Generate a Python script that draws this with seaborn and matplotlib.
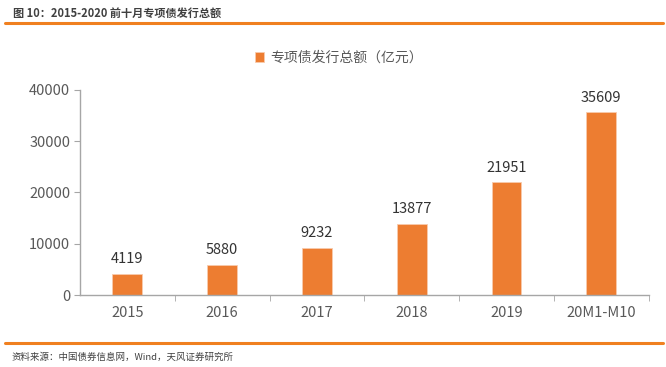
import matplotlib
matplotlib.use("Agg")
import matplotlib.pyplot as plt
import seaborn as sns
import pandas as pd

years = ["2015", "2016", "2017", "2018", "2019", "20M1-M10"]
amounts = [4119, 5880, 9232, 13877, 21951, 35609]
series_name = "专项债发行总额（亿元）"

sns.set_style("white")
plt.rcParams['font.family'] = ['Noto Sans CJK SC', 'DejaVu Sans']

df = pd.DataFrame({"year": years, "amount": amounts})
orange = "#ED7D31"
grey = "#595959"
axis_grey = "#A6A6A6"

fig = plt.figure(figsize=(6.66, 3.67), dpi=100)
ax = fig.add_axes([0.120, 0.196, 0.854, 0.559])
sns.barplot(data=df, x="year", y="amount", color=orange, width=0.316,
            saturation=1, ax=ax, label=series_name,
            edgecolor="#F8CBAD", linewidth=0.6)

for i, v in enumerate(amounts):
    ax.text(i, v + 1500, str(v), ha="center", va="bottom", fontsize=10.5, color="#333333")

ax.set_xlim(-0.5, len(years) - 0.5)
ax.set_ylim(0, 40000)
ax.set_yticks(range(0, 40001, 10000))
ax.set_xticks([i + 0.5 for i in range(len(years))], minor=True)
ax.set_xlabel("")
ax.set_ylabel("")
ax.tick_params(axis="y", length=4, color=axis_grey, labelsize=10.5, labelcolor=grey, pad=3, left=True)
ax.tick_params(axis="x", which="major", length=0, labelsize=10.5, labelcolor=grey, pad=8)
ax.tick_params(axis="x", which="minor", length=4, color=axis_grey, bottom=True)
for s in ["top", "right"]:
    ax.spines[s].set_visible(False)
for s in ["left", "bottom"]:
    ax.spines[s].set_color(axis_grey)
    ax.spines[s].set_linewidth(1)

ax.legend(loc="lower center", bbox_to_anchor=(0.455, 1.06), frameon=False, fontsize=10,
          handlelength=0.7, handleheight=0.7, handletextpad=0.4, labelcolor=grey)

fig.text(0.02, 0.965, "图 10：2015-2020 前十月专项债发行总额", fontsize=8, fontweight="bold",
         color="#404040", va="center")
fig.add_artist(plt.Line2D([0.008, 0.995], [0.937, 0.937], color="#F08020", linewidth=2.2))
fig.add_artist(plt.Line2D([0.008, 0.995], [0.065, 0.065], color="#F08020", linewidth=2.2))
fig.text(0.018, 0.028, "资料来源：中国债券信息网，Wind，天风证券研究所", fontsize=6.8,
         color="#404040", va="center")

fig.savefig("out.png", dpi=100)
